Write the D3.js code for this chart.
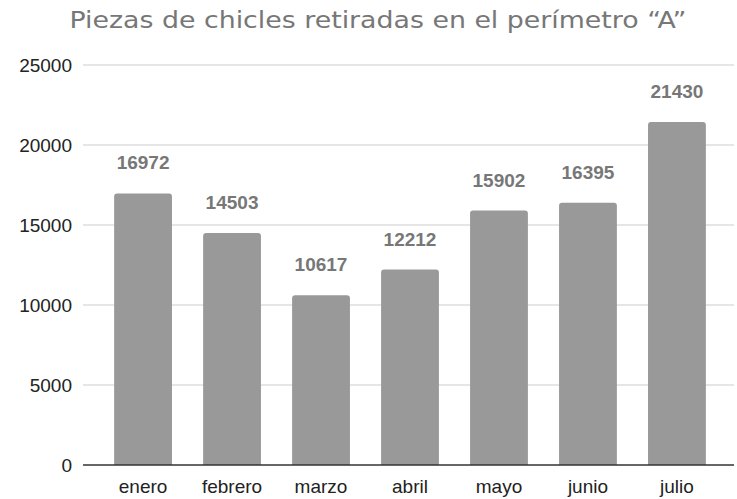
<!DOCTYPE html>
<html>
<head>
<meta charset="utf-8">
<script src="https://cdn.jsdelivr.net/npm/d3@7"></script>
<style>
  body { margin: 0; background: #fff; }
</style>
</head>
<body>
<div id="viz"></div>
<script>
const months = ["enero", "febrero", "marzo", "abril", "mayo", "junio", "julio"];
const pieces = [16972, 14503, 10617, 12212, 15902, 16395, 21430];
const yTicks = [0, 5000, 10000, 15000, 20000, 25000];

const width = 737,
  height = 499;

const svg = d3
  .select("#viz")
  .append("svg")
  .attr("width", width)
  .attr("height", height);

const title = svg
  .append("text")
  .attr("x", 378)
  .attr("y", 28)
  .attr("text-anchor", "middle")
  .style("font-family", "'DejaVu Sans', Verdana, sans-serif")
  .style("font-size", "23px")
  .style("fill", "#777")
  .text("Piezas de chicles retiradas en el perímetro “A”");

// fit title to the reference width
const tw = title.node().getComputedTextLength();
if (Math.abs(tw - 617) > 8) {
  title.attr("textLength", 617).attr("lengthAdjust", "spacingAndGlyphs");
}

const xScale = d3
  .scaleBand()
  .domain(months)
  .range([83, 737])
  .paddingInner(0.35)
  .paddingOuter(0.35);

const yScale = d3.scaleLinear().domain([0, 25000]).range([465, 65]);

// gridlines
svg
  .selectAll("line.grid")
  .data(yTicks.filter(t => t > 0))
  .enter()
  .append("line")
  .attr("class", "grid")
  .attr("x1", 83)
  .attr("x2", 734)
  .attr("y1", d => yScale(d))
  .attr("y2", d => yScale(d))
  .attr("stroke", "#cccccc")
  .attr("stroke-width", 1);

// y tick labels
svg
  .selectAll("text.ytick")
  .data(yTicks)
  .enter()
  .append("text")
  .attr("class", "ytick")
  .attr("x", 72)
  .attr("y", d => yScale(d) + 7)
  .attr("text-anchor", "end")
  .style("font-family", "Liberation Sans, Arial")
  .style("font-size", "19px")
  .style("fill", "#222")
  .text(d => d);

// bars
svg
  .selectAll("path.bar")
  .data(pieces)
  .enter()
  .append("path")
  .attr("class", "bar")
  .attr("fill", "#999999")
  .attr("d", (d, i) => {
    const x = xScale(months[i]),
      w = xScale.bandwidth(),
      y = yScale(d),
      b = yScale(0),
      r = 3;
    return `M${x},${b}V${y + r}Q${x},${y} ${x + r},${y}H${x + w - r}Q${x + w},${y} ${x + w},${y + r}V${b}Z`;
  });

// value labels
svg
  .selectAll("text.val")
  .data(pieces)
  .enter()
  .append("text")
  .attr("class", "val")
  .attr("x", (d, i) => xScale(months[i]) + xScale.bandwidth() / 2)
  .attr("y", d => yScale(d) - 24)
  .attr("text-anchor", "middle")
  .style("font-family", "Liberation Sans, Arial")
  .style("font-weight", "bold")
  .style("font-size", "19px")
  .style("fill", "#777")
  .text(d => d);

// x axis baseline
svg
  .append("line")
  .attr("x1", 83)
  .attr("x2", 734)
  .attr("y1", yScale(0))
  .attr("y2", yScale(0))
  .attr("stroke", "#333")
  .attr("stroke-width", 1.5);

// category labels
svg
  .selectAll("text.cat")
  .data(months)
  .enter()
  .append("text")
  .attr("class", "cat")
  .attr("x", d => xScale(d) + xScale.bandwidth() / 2)
  .attr("y", 493)
  .attr("text-anchor", "middle")
  .style("font-family", "Liberation Sans, Arial")
  .style("font-size", "19px")
  .style("fill", "#222")
  .text(d => d);
</script>
</body>
</html>
